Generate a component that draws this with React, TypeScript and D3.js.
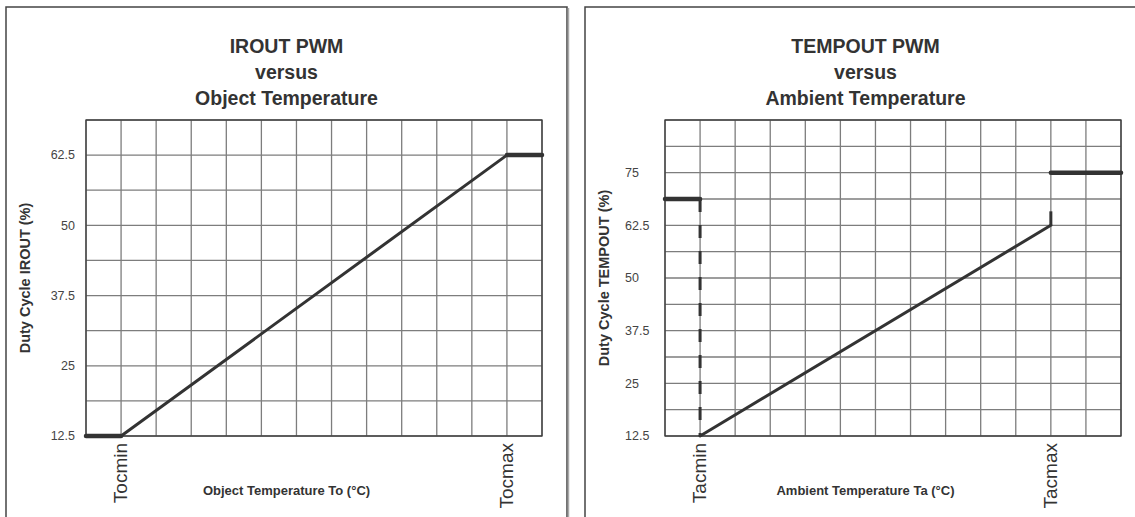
import React, { useEffect, useRef } from 'react';
import * as d3 from 'd3';

const W = 1135;
const H = 517;

// IROUT chart
const irTitle = ['IROUT PWM', 'versus', 'Object Temperature'];
const irYLabel = 'Duty Cycle IROUT (%)';
const irXLabel = 'Object Temperature To (°C)';
const irYTicks = [12.5, 25, 37.5, 50, 62.5];
const irYDomain = [12.5, 68.75];
const irMarkNames = ['Tocmin', 'Tocmax'];
const irMarkPos = [1, 12];
const irLow = [[0, 12.5], [1, 12.5]];
const irRamp = [[1, 12.5], [12, 62.5]];
const irHigh = [[12, 62.5], [13, 62.5]];

// TEMPOUT chart
const taTitle = ['TEMPOUT PWM', 'versus', 'Ambient Temperature'];
const taYLabel = 'Duty Cycle TEMPOUT (%)';
const taXLabel = 'Ambient Temperature Ta (°C)';
const taYTicks = [12.5, 25, 37.5, 50, 62.5, 75];
const taYDomain = [12.5, 87.5];
const taMarkNames = ['Tacmin', 'Tacmax'];
const taMarkPos = [1, 11];
const taLow = [[0, 68.75], [1, 68.75]];
const taDrop = [[1, 68.75], [1, 12.5]];
const taRamp = [[1, 12.5], [11, 62.5]];
const taStep = [[11, 62.5], [11, 75]];
const taHigh = [[11, 75], [13, 75]];

const xColumns = 13;
const gridStep = 6.25;
const FONT = '"Liberation Sans", Arial, Helvetica, sans-serif';
const INK = '#333';

const drawPanel = (svg, p) => {
  const g = svg.append('g');
  const left = p.x0 + 80;
  const right = p.x0 + 536;
  const top = 120;
  const bottom = 436;
  const cx = p.x0 + 280.5;

  // panel frame (open at the bottom)
  g.append('path')
    .attr('d', `M${p.x0},${H + 5}V7H${p.x0 + 561}V${H + 5}`)
    .attr('fill', 'none')
    .attr('stroke', '#444')
    .attr('stroke-width', 1.5);
  g.append('line')
    .attr('x1', p.x0 + 562.5).attr('x2', p.x0 + 562.5)
    .attr('y1', 8).attr('y2', H + 5)
    .attr('stroke', '#aaa').attr('stroke-width', 1.5);

  const x = d3.scaleLinear().domain([0, xColumns]).range([left, right]);
  const y = d3.scaleLinear().domain(p.yDomain).range([bottom, top]);

  // title
  p.title.forEach((t, i) => {
    g.append('text')
      .attr('x', cx)
      .attr('y', 53 + i * 26)
      .attr('text-anchor', 'middle')
      .style('font-family', FONT)
      .style('font-weight', 'bold')
      .style('font-size', '19.5px')
      .style('fill', INK)
      .text(t);
  });

  // grid
  const hLines = d3.range(p.yDomain[0], p.yDomain[1] + 0.001, gridStep);
  g.selectAll('.h')
    .data(hLines)
    .enter()
    .append('line')
    .attr('x1', left).attr('x2', right)
    .attr('y1', d => y(d)).attr('y2', d => y(d))
    .attr('stroke', '#7d7d7d')
    .attr('stroke-width', 1.3);
  g.selectAll('.v')
    .data(d3.range(0, xColumns + 1))
    .enter()
    .append('line')
    .attr('x1', d => x(d)).attr('x2', d => x(d))
    .attr('y1', top).attr('y2', bottom)
    .attr('stroke', '#7d7d7d')
    .attr('stroke-width', 1.3);
  g.append('rect')
    .attr('x', left).attr('y', top)
    .attr('width', right - left).attr('height', bottom - top)
    .attr('fill', 'none')
    .attr('stroke', '#3a3a3a')
    .attr('stroke-width', 1.3);

  // y ticks
  g.selectAll('.yt')
    .data(p.yTicks)
    .enter()
    .append('text')
    .attr('x', p.tickAnchor === 'end' ? left - 11 : left - 40)
    .attr('y', d => y(d))
    .attr('dy', '0.35em')
    .attr('text-anchor', p.tickAnchor)
    .style('font-family', FONT)
    .style('font-size', '12.5px')
    .style('fill', '#444')
    .text(d => d);

  // axis titles
  g.append('text')
    .attr('transform', `translate(${p.x0 + 19},${(top + bottom) / 2}) rotate(-90)`)
    .attr('text-anchor', 'middle')
    .attr('dy', '0.35em')
    .style('font-family', FONT)
    .style('font-weight', 'bold')
    .style('font-size', '14.5px')
    .style('fill', INK)
    .text(p.yLabel);
  g.append('text')
    .attr('x', cx)
    .attr('y', 495)
    .attr('text-anchor', 'middle')
    .style('font-family', FONT)
    .style('font-weight', 'bold')
    .style('font-size', '13px')
    .style('fill', INK)
    .text(p.xLabel);

  // Tmin / Tmax labels
  p.markPos.forEach((v, i) => {
    g.append('text')
      .attr('transform', `translate(${x(v) + 6},${bottom + 7}) rotate(-90)`)
      .attr('text-anchor', 'end')
      .style('font-family', FONT)
      .style('font-size', '19px')
      .style('fill', INK)
      .text(p.markNames[i]);
  });

  // curve
  const line = d3.line().x(d => x(d[0])).y(d => y(d[1]));
  const seg = (data, width, dash) => {
    g.append('path')
      .attr('d', line(data))
      .attr('fill', 'none')
      .attr('stroke', INK)
      .attr('stroke-width', width)
      .attr('stroke-linecap', dash ? 'butt' : 'round')
      .attr('stroke-dasharray', dash || null);
  };
  p.flat.forEach(s => seg(s, 4.5));
  p.ramp.forEach(s => seg(s, 3));
  (p.dashed || []).forEach(s => seg(s, 3, '13 13'));
  (p.step || []).forEach(s => seg(s, 3, '14 60'));
};

const App = () => {
  const ref = useRef(null);

  useEffect(() => {
    if (!ref.current) return;
    d3.select(ref.current).selectAll('*').remove();

    const svg = d3.select(ref.current)
      .append('svg')
      .attr('width', W)
      .attr('height', H)
      .style('display', 'block')
      .style('background', '#fff');

    drawPanel(svg, {
      x0: 6,
      title: irTitle,
      yLabel: irYLabel,
      xLabel: irXLabel,
      yTicks: irYTicks,
      yDomain: irYDomain,
      tickAnchor: 'end',
      markNames: irMarkNames,
      markPos: irMarkPos,
      flat: [irLow, irHigh],
      ramp: [irRamp],
    });

    drawPanel(svg, {
      x0: 585,
      title: taTitle,
      yLabel: taYLabel,
      xLabel: taXLabel,
      yTicks: taYTicks,
      yDomain: taYDomain,
      tickAnchor: 'start',
      markNames: taMarkNames,
      markPos: taMarkPos,
      flat: [taLow, taHigh],
      ramp: [taRamp],
      dashed: [taDrop],
      step: [taStep],
    });
  }, []);

  return (
    <div style={{ position: 'absolute', left: 0, top: 0, width: W, height: H, overflow: 'hidden' }}>
      <div ref={ref}></div>
    </div>
  );
};

export default App;
